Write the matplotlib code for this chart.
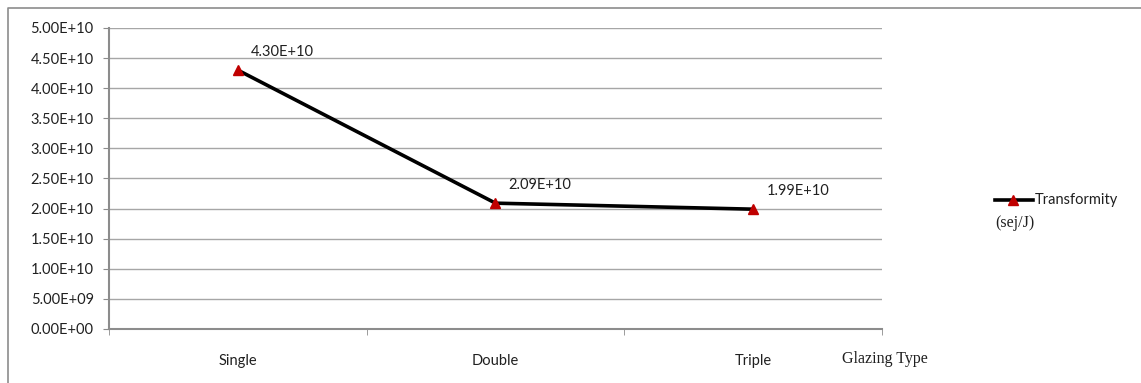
import matplotlib.pyplot as plt
from matplotlib.lines import Line2D
from matplotlib.ticker import FixedLocator, FuncFormatter

glazing = ["Single", "Double", "Triple"]
transformity = [4.30e10, 2.09e10, 1.99e10]
value_labels = ["4.30E+10", "2.09E+10", "1.99E+10"]
y_ticks = [i * 5e9 for i in range(11)]

SANS = "Lato"
SERIF = "Liberation Serif"
TXT = "#202020"

fig = plt.figure(figsize=(11.41, 3.83), dpi=100)
ax = fig.add_axes([0.0955, 0.141, 0.6775, 0.786])

x = list(range(len(glazing)))
ax.plot(x, transformity, color="black", linewidth=2.6, zorder=3,
        marker="^", markersize=7, markerfacecolor="#c00000",
        markeredgecolor="#c00000", solid_capstyle="butt")

for xi, yi, lab in zip(x, transformity, value_labels):
    ax.annotate(lab, (xi, yi), xytext=(9.5, 13), textcoords="offset points",
                va="center", fontsize=10.5, family=SANS, color=TXT)

ax.set_xlim(-0.5, len(glazing) - 0.5)
ax.set_ylim(0, 5e10)
ax.yaxis.set_major_locator(FixedLocator(y_ticks))
ax.yaxis.set_major_formatter(FuncFormatter(
    lambda v, p: "{:.2E}".format(v)))
ax.grid(axis="y", color="#a6a6a6", linewidth=1.0)
ax.set_axisbelow(True)

ax.set_xticks(x)
ax.set_xticklabels(glazing)
ax.set_xticks([i - 0.5 for i in range(len(glazing) + 1)], minor=True)
ax.tick_params(axis="x", which="major", length=0, pad=18)
ax.tick_params(axis="x", which="minor", length=4, color="#8c8c8c",
               direction="out")
ax.tick_params(axis="y", length=4, color="#8c8c8c", pad=7)
for lbl in ax.get_xticklabels() + ax.get_yticklabels():
    lbl.set_fontsize(10.5)
    lbl.set_family(SANS)
    lbl.set_color(TXT)

for side in ["top", "right"]:
    ax.spines[side].set_visible(False)
for side in ["left", "bottom"]:
    ax.spines[side].set_color("#8c8c8c")
    ax.spines[side].set_linewidth(1.5)

# axis title placed to the right of the category labels
fig.text(0.738, 0.052, "Glazing Type", fontsize=11.5, family=SERIF, color=TXT)

# legend entry drawn by hand: line + marker, then two-part label
fig.add_artist(Line2D([0.872, 0.905], [0.478, 0.478], color="black",
                      linewidth=2.6, transform=fig.transFigure))
fig.add_artist(Line2D([0.888], [0.478], marker="^", markersize=7,
                      color="#c00000", transform=fig.transFigure))
fig.text(0.907, 0.478, "Transformity", fontsize=10.5, family=SANS,
         va="center", color=TXT)
fig.text(0.872, 0.418, "(sej/J)", fontsize=11.5, family=SERIF,
         va="center", color=TXT)

# outer chart frame
fig.add_artist(Line2D([0.007, 0.007, 1.0], [0.0, 0.979, 0.979],
                      color="#8c8c8c", linewidth=1.2,
                      transform=fig.transFigure))

fig.savefig("out.png", dpi=100)
